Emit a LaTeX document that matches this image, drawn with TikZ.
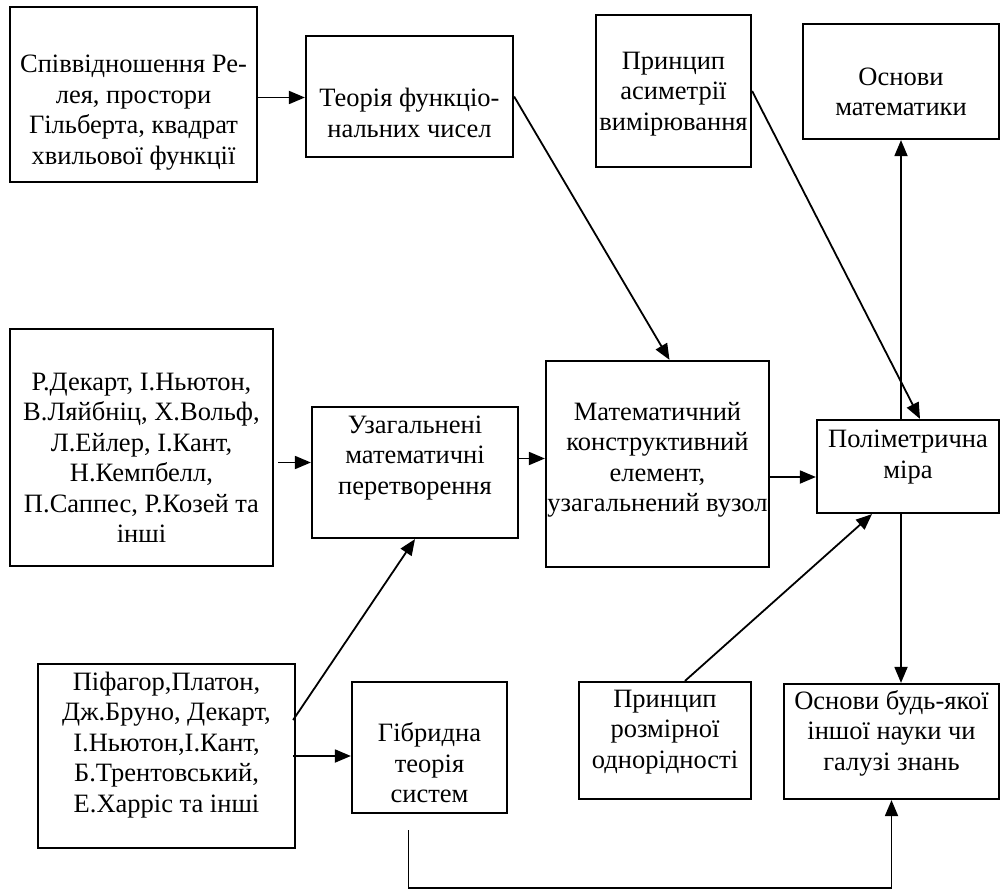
\documentclass[tikz,border=0pt]{standalone}
\usepackage{fontspec}
\setmainfont{Liberation Serif}
\usetikzlibrary{arrows.meta}
\begin{document}
\begin{tikzpicture}[x=1pt,y=-1pt,line width=1.8pt,
  box/.style={draw,line width=2.2pt,rectangle,inner sep=0pt},
  txt/.style={align=center,inner sep=0pt,font=\fontsize{26.5}{30.5}\selectfont},
  >={Triangle[length=16pt,width=13pt]}]
  \useasboundingbox (0,0) rectangle (1001,890);
  % boxes
  \node[box,minimum width=247pt,minimum height=175pt] (rel) at (133.5,94.5) {};
  \node[box,minimum width=207pt,minimum height=121pt] (fun) at (409.5,96.5) {};
  \node[box,minimum width=155pt,minimum height=152pt] (asym) at (673.5,91) {};
  \node[box,minimum width=196pt,minimum height=115pt] (math) at (901,81.5) {};
  \node[box,minimum width=263pt,minimum height=237pt] (sci) at (141.5,447.5) {};
  \node[box,minimum width=206pt,minimum height=131pt] (gen) at (415,472.5) {};
  \node[box,minimum width=223pt,minimum height=206pt] (mce) at (657.5,464) {};
  \node[box,minimum width=182pt,minimum height=93pt] (poly) at (908,466.5) {};
  \node[box,minimum width=257pt,minimum height=184pt] (phil) at (166.5,756) {};
  \node[box,minimum width=155pt,minimum height=131pt] (hyb) at (429.5,747.5) {};
  \node[box,minimum width=172pt,minimum height=117pt] (dim) at (665,740.5) {};
  \node[box,minimum width=215pt,minimum height=115pt] (any) at (891.5,741.5) {};
  % texts
  \node[txt] (rel-t) at (133.5,112.5) {Співвідношення Ре-\\лея, простори\\Гільберта, квадрат\\хвильової функції};
  \node[txt] (fun-t) at (409.5,113) {Теорія функціо-\\нальних чисел};
  \node[txt] (asym-t) at (673.5,94) {Принцип\\асиметрії\\вимірювання};
  \node[txt] (math-t) at (901,92) {Основи\\математики};
  \node[txt] (sci-t) at (141.5,458) {Р.Декарт, І.Ньютон,\\В.Ляйбніц, Х.Вольф,\\Л.Ейлер, І.Кант,\\Н.Кемпбелл,\\П.Саппес, Р.Козей та\\інші};
  \node[txt] (gen-t) at (415,458) {Узагальнені\\математичні\\перетворення};
  \node[txt] (mce-t) at (657.5,460) {Математичний\\конструктивний\\елемент,\\узагальнений вузол};
  \node[txt] (poly-t) at (908,457) {Поліметрична\\міра};
  \node[txt] (phil-t) at (166.5,745) {Піфагор,Платон,\\Дж.Бруно, Декарт,\\І.Ньютон,І.Кант,\\Б.Трентовський,\\Е.Харріс та інші};
  \node[txt] (hyb-t) at (429.5,763) {Гібридна\\теорія\\систем};
  \node[txt] (dim-t) at (665,732) {Принцип\\розмірної\\однорідності};
  \node[txt] (any-t) at (891.5,733) {Основи будь-якої\\іншої науки чи\\галузі знань};
  % connectors
  \draw[->] ([yshift=-3pt]rel.east) -- ([yshift=-3pt]rel.east -| fun.west);
  \draw[->] (fun.east) -- ([xshift=12pt]mce.north);
  \draw[->] (asym.east) -- ([xshift=12pt]poly.north);
  \draw[->] (poly.north -| math.south) -- (math.south);
  \draw[->] (poly.south -| math.south) -- (any.north -| math.south);
  \draw[->] ([yshift=-15pt,xshift=4pt]sci.east) -- ([yshift=-15pt]sci.east -| gen.west);
  \draw[->] ([yshift=14pt]gen.east) -- ([yshift=14pt]gen.east -| mce.west);
  \draw[->] ([yshift=-13pt]mce.east) -- ([yshift=-13pt]mce.east -| poly.west);
  \draw[->] ([yshift=36pt,xshift=-3pt]phil.east) -- (gen.south);
  \draw[->] ([xshift=-3pt]phil.east) -- (phil.east -| hyb.west);
  \draw[->] ([xshift=20pt]dim.north) -- ([xshift=-36pt]poly.south);
  \draw[->] ([xshift=-21pt,yshift=-16pt]hyb.south) -- ++(0,58) -| (any.south);
\end{tikzpicture}
\end{document}
